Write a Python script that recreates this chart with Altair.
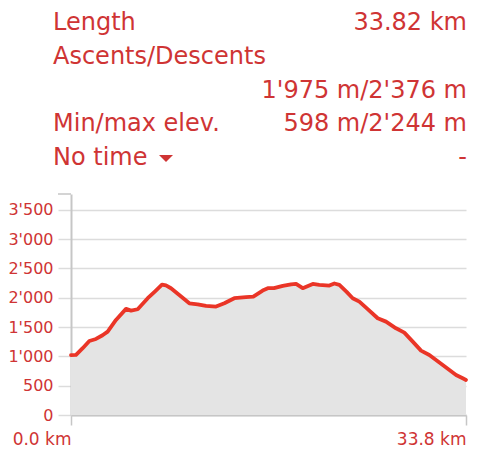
import altair as alt
import pandas as pd

# Elevation profile (distance in km, elevation in m)
dist_km = [0, 0.43, 1.0, 1.57, 2.14, 2.7, 3.14, 3.85, 4.71, 5.14, 5.71, 6.57,
           7.2, 7.79, 8.13, 8.56, 9.27, 10.13, 10.85, 11.56, 12.42, 13.13,
           13.98, 14.98, 15.61, 16.41, 16.9, 17.38, 18.13, 18.84, 19.27, 19.84,
           20.70, 21.26, 22.12, 22.55, 22.98, 23.6, 24.12, 24.69, 25.26, 26.26,
           26.97, 27.83, 28.54, 29.26, 29.97, 30.68, 31.83, 32.97, 33.54, 33.82]
elev_m = [1020, 1025, 1140, 1263, 1297, 1360, 1422, 1622, 1810, 1780, 1804, 1992,
          2110, 2225, 2210, 2162, 2048, 1906, 1889, 1860, 1849, 1906,
          1992, 2009, 2020, 2122, 2165, 2163, 2202, 2230, 2238, 2163,
          2236, 2219, 2208, 2244, 2219, 2100, 1992, 1934, 1832, 1650,
          1593, 1479, 1405, 1251, 1098, 1024, 854, 683, 626, 598]

stat_labels = ["Length", "Ascents/Descents", "", "Min/max elev.", "No time"]
stat_values = ["33.82 km", "", "1'975 m/2'376 m", "598 m/2'244 m", "-"]

y_ticks = [0, 500, 1000, 1500, 2000, 2500, 3000, 3500]
x_ticks = [0, 33.82]

RED = "#cf3434"
LINE = "#ea3527"
FILL = "#e4e4e4"
GRID = "#dcdcdc"
AXIS = "#c6c6c6"
FONT = "DejaVu Sans"

df = pd.DataFrame({"km": dist_km, "elev": elev_m})
base = alt.Chart(df)

x_enc = alt.X(
    "km:Q",
    scale=alt.Scale(domain=[0, 33.82], nice=False, zero=False),
    axis=alt.Axis(
        values=x_ticks,
        labelExpr="format(datum.value, '.1f') + ' km'",
        labelAlign="right", labelBaseline="top", labelPadding=6,
        labelFlush=False, labelOverlap=False,
        labelFont=FONT, labelFontSize=17, labelColor=RED,
        tickSize=10, tickColor=AXIS, tickWidth=1.5,
        domainColor=AXIS, domainWidth=2, grid=False, title=None,
    ),
)
y_enc = alt.Y(
    "elev:Q",
    scale=alt.Scale(domain=[0, 3770], nice=False),
    axis=alt.Axis(
        values=y_ticks,
        labelExpr="replace(format(datum.value, ','), ',', \"'\")",
        labelFont=FONT, labelFontSize=16, labelColor=RED, labelPadding=5,
        tickSize=13, tickColor=GRID, tickWidth=1.5,
        domainColor=AXIS, domainWidth=2,
        grid=True, gridColor=GRID, gridWidth=1.5, title=None,
    ),
)

area = base.mark_area(color=FILL, opacity=1).encode(x=x_enc, y=y_enc)
line = base.mark_line(color=LINE, strokeWidth=3.8, strokeJoin="round",
                      strokeCap="round").encode(x=x_enc, y=y_enc)

one = alt.Data(values=[{}])
top_tick = alt.Chart(one).mark_rule(color=AXIS, strokeWidth=1.5).encode(
    x=alt.value(-13), x2=alt.value(0), y=alt.value(0))

layers = [area, line, top_tick]
ROW0, ROWH = -164, 33.75
for i, (lab, val) in enumerate(zip(stat_labels, stat_values)):
    ypos = ROW0 + i * ROWH
    if lab:
        layers.append(alt.Chart(one).mark_text(
            align="left", baseline="alphabetic", font=FONT, fontSize=24,
            color=RED).encode(x=alt.value(-18), y=alt.value(ypos),
                              text=alt.value(lab)))
    if val:
        layers.append(alt.Chart(one).mark_text(
            align="right", baseline="alphabetic", font=FONT, fontSize=24,
            color=RED).encode(x=alt.value(396), y=alt.value(ypos),
                              text=alt.value(val)))

caret = alt.Chart(one).mark_point(
    shape="M-1,-0.5L1,-0.5L0,0.5Z", filled=True, color=RED, size=196,
    opacity=1).encode(x=alt.value(95), y=alt.value(-35.5))
layers.append(caret)

chart = alt.layer(*layers).properties(
    width=395, height=221,
    autosize=alt.AutoSizeParams(type="none"),
    padding={"left": 63, "top": 186, "right": 6, "bottom": 36},
    background="white",
).configure_view(stroke=None)

chart.save("out.html", embed_options={"renderer": "svg", "actions": False})
